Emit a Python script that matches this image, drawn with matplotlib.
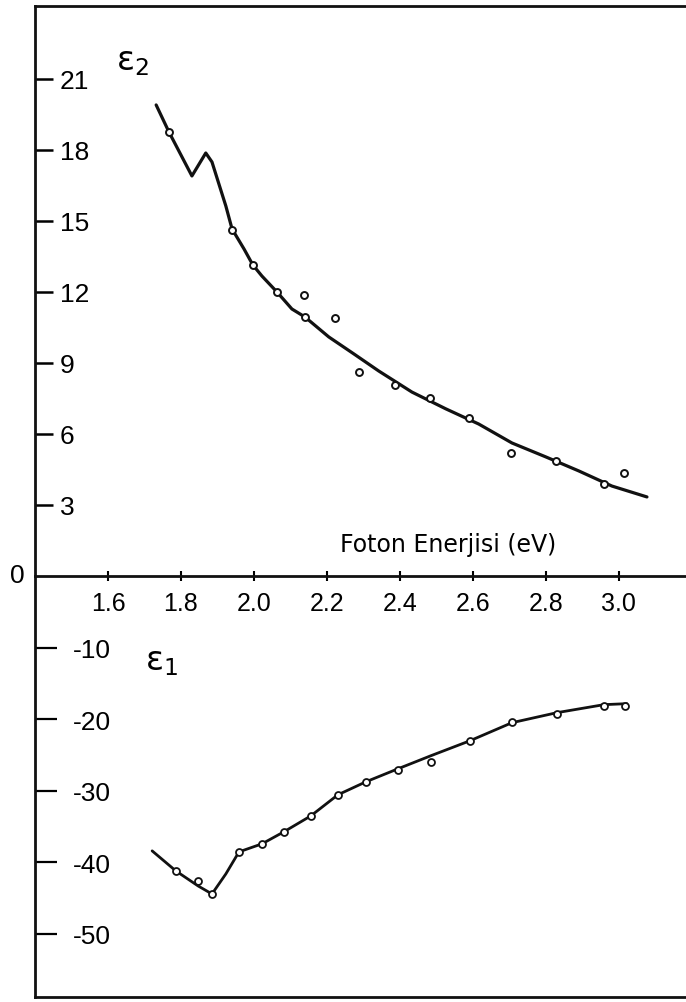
import matplotlib
matplotlib.use('Agg')
import matplotlib.pyplot as plt

# eps2 (top panel): drawn curve and measured points
e2_curve_x = [1.732, 1.767, 1.830, 1.868, 1.885, 1.923, 1.940, 1.973, 1.997, 2.022,
              2.063, 2.104, 2.140, 2.205, 2.274, 2.342, 2.433, 2.526, 2.616, 2.707,
              2.800, 2.890, 2.981, 3.077]
e2_curve_y = [19.90, 18.76, 16.90, 17.87, 17.49, 15.63, 14.66, 13.81, 13.14, 12.67,
              12.00, 11.28, 10.94, 10.10, 9.38, 8.66, 7.77, 7.06, 6.42, 5.62,
              5.03, 4.44, 3.80, 3.34]
e2_pts_x = [1.767, 1.940, 1.997, 2.063, 2.137, 2.140, 2.222, 2.288, 2.386, 2.482,
            2.589, 2.704, 2.827, 2.959, 3.014]
e2_pts_y = [18.76, 14.62, 13.14, 12.00, 11.87, 10.94, 10.90, 8.62, 8.07, 7.52,
            6.68, 5.20, 4.86, 3.89, 4.35]

# eps1 (bottom panel)
e1_curve_x = [1.721, 1.786, 1.847, 1.885, 1.923, 1.959, 2.022, 2.082, 2.156, 2.230,
              2.307, 2.395, 2.485, 2.592, 2.707, 2.830, 2.959, 3.022]
e1_curve_y = [-38.39, -41.19, -43.29, -44.41, -41.61, -38.53, -37.41, -35.73, -33.50, -30.56,
              -28.74, -26.92, -25.10, -23.01, -20.49, -19.09, -17.97, -17.83]
e1_pts_x = [1.786, 1.847, 1.885, 1.959, 2.022, 2.082, 2.156, 2.230, 2.307, 2.395,
            2.485, 2.592, 2.707, 2.830, 2.959, 3.016]
e1_pts_y = [-41.19, -42.59, -44.41, -38.53, -37.41, -35.73, -33.50, -30.56, -28.74, -27.06,
            -25.94, -23.01, -20.35, -19.23, -18.11, -18.11]

x_ticks = [1.6, 1.8, 2.0, 2.2, 2.4, 2.6, 2.8, 3.0]
x_labels = ['1.6', '1.8', '2.0', '2.2', '2.4', '2.6', '2.8', '3.0']
e2_ticks = [3, 6, 9, 12, 15, 18, 21]
e1_ticks = [-10, -20, -30, -40, -50]
e1_labels = ['-10', '-20', '-30', '-40', '-50']

lib = ['Liberation Sans', 'DejaVu Sans']
plt.rcParams['mathtext.fontset'] = 'dejavusans'

W, H = 686, 1003
fig = plt.figure(figsize=(W/100, H/100), dpi=100, facecolor='w')


def rect(x0, y0, x1, y1):
    # pixel box -> figure fraction
    return [x0/W, 1 - y1/H, (x1 - x0)/W, (y1 - y0)/H]


ax1 = fig.add_axes(rect(35, 7, 686, 577))
ax2 = fig.add_axes(rect(35, 577, 686, 998))
for ax in (ax1, ax2):
    ax.set_facecolor('none')
    ax.set_xlim(1.4, 3.184)
    ax.spines['right'].set_visible(False)
    for s in ax.spines.values():
        s.set_linewidth(2.0)
        s.set_color('#111111')

ax1.set_ylim(0, 24.08)
ax2.set_ylim(-58.8, 0)
ax2.spines['top'].set_visible(False)

# curves and points
ax1.plot(e2_curve_x, e2_curve_y, '-', color='#111111', lw=2.3, solid_capstyle='round')
ax1.plot(e2_pts_x, e2_pts_y, 'o', ls='none', ms=5, mfc='white', mec='#111111', mew=1.4)
ax2.plot(e1_curve_x, e1_curve_y, '-', color='#111111', lw=2.0, solid_capstyle='round')
ax2.plot(e1_pts_x, e1_pts_y, 'o', ls='none', ms=5, mfc='white', mec='#111111', mew=1.3)

# x ticks on the zero line
ax1.set_xticks(x_ticks)
ax1.set_xticklabels(x_labels, family=lib, fontsize=18)
ax1.tick_params(axis='x', direction='inout', length=7, width=1.5, pad=7)
ax2.set_xticks([])

# y ticks, labels inside the frame
ax1.set_yticks(e2_ticks)
ax1.set_yticklabels([str(v) for v in e2_ticks], family=lib, fontsize=19)
ax1.tick_params(axis='y', direction='in', length=13, width=1.8, pad=-18)
for t in ax1.get_yticklabels():
    t.set_horizontalalignment('left')

ax2.set_yticks(e1_ticks)
ax2.set_yticklabels(e1_labels, family=lib, fontsize=19)
ax2.tick_params(axis='y', direction='in', length=16, width=1.6, pad=-27)
for t in ax2.get_yticklabels():
    t.set_horizontalalignment('left')

# texts
fig.text(17/W, 1 - 576/H, '0', family=lib, fontsize=19, ha='center', va='center')
ax1.text(0.634, 0.056, 'Foton Enerjisi (eV)', transform=ax1.transAxes,
         ha='center', va='center', fontsize=17)
ax1.text(0.15, 0.905, r'ε$_2$', transform=ax1.transAxes,
         ha='center', va='center', fontsize=24)
ax2.text(0.195, 0.80, r'ε$_1$', transform=ax2.transAxes,
         ha='center', va='center', fontsize=24)

fig.savefig('out.png', dpi=100)
